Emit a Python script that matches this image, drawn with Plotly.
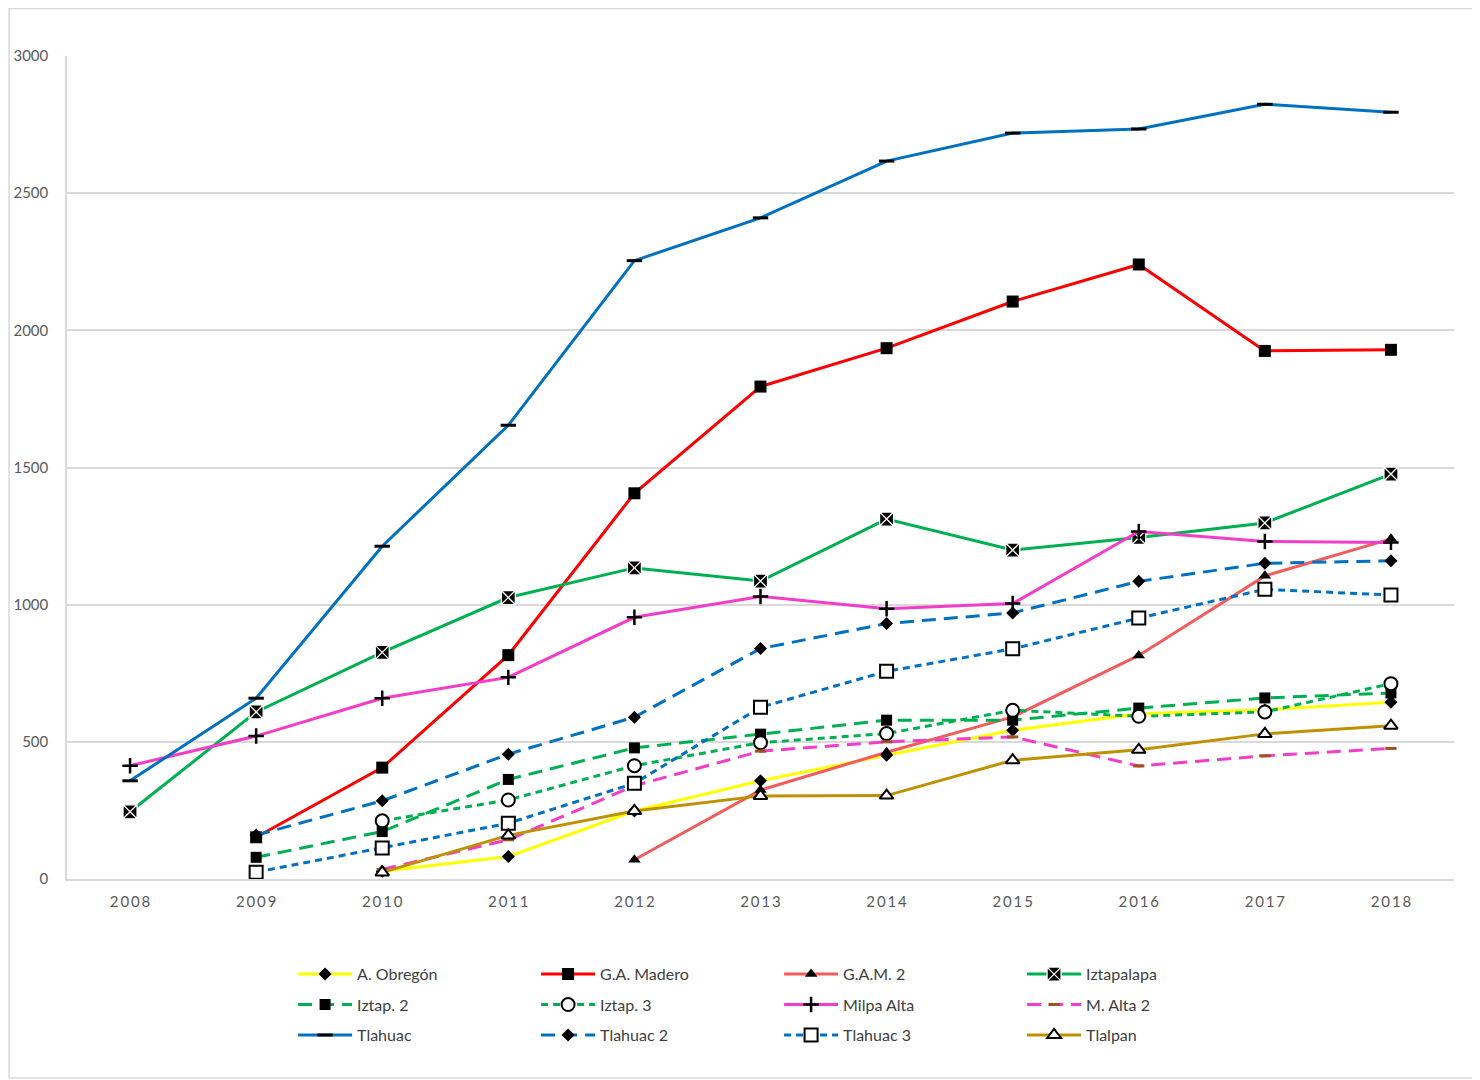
import plotly.graph_objects as go

years = [2008, 2009, 2010, 2011, 2012, 2013, 2014, 2015, 2016, 2017, 2018]
year_labels = ["\u2009".join(str(y)) for y in years]

a_obregon = [None, None, 28, 82, 248, 358, 451, 542, 602, 617, 644]
ga_madero = [None, 152, 406, 816, 1406, 1795, 1935, 2105, 2240, 1925, 1929]
gam_2 = [None, None, None, None, 70, 324, 462, 591, 815, 1105, 1240]
iztapalapa = [245, 609, 826, 1026, 1134, 1086, 1312, 1199, 1245, 1298, 1476]
iztap_2 = [None, 79, 173, 363, 478, 528, 579, 579, 623, 660, 678]
iztap_3 = [None, None, 212, 288, 413, 497, 530, 615, 593, 609, 712]
milpa_alta = [413, 521, 659, 735, 954, 1030, 985, 1004, 1267, 1230, 1227]
m_alta_2 = [None, None, 35, 143, 340, 466, 500, 518, 412, 449, 476]
tlahuac = [358, 659, 1213, 1654, 2254, 2410, 2617, 2719, 2734, 2824, 2795]
tlahuac_2 = [None, 160, 285, 455, 590, 840, 931, 970, 1085, 1151, 1160]
tlahuac_3 = [None, 25, 113, 203, 349, 626, 757, 839, 951, 1056, 1035]
tlalpan = [None, None, 24, 159, 248, 303, 304, 433, 471, 529, 559]

BLUE = "#0070C0"
GREEN = "#00B050"
PINK = "#F23DC9"

# name, values, line colour, dash, marker, legend row
series = [
    ("A. Obregón", a_obregon, "#FFFF00", "solid",
     dict(symbol="diamond", size=10, color="black"), "legend"),
    ("G.A. Madero", ga_madero, "#FF0000", "solid",
     dict(symbol="square", size=12, color="black"), "legend"),
    ("G.A.M. 2", gam_2, "#F25C5C", "solid",
     dict(symbol="triangle-up", size=11, color="black"), "legend"),
    ("Iztapalapa", iztapalapa, GREEN, "solid",
     dict(symbol="square-x", size=14, color="black",
          line=dict(color="white", width=1.3)), "legend"),
    ("Iztap. 2", iztap_2, GREEN, "14px,8px",
     dict(symbol="square", size=11, color="black"), "legend2"),
    ("Iztap. 3", iztap_3, GREEN, "7px,5px",
     dict(symbol="circle", size=13, color="white",
          line=dict(color="black", width=2)), "legend2"),
    ("Milpa Alta", milpa_alta, PINK, "solid",
     dict(symbol="cross-thin", size=11, line=dict(color="black", width=2.5)), "legend2"),
    ("M. Alta 2", m_alta_2, PINK, "14px,8px",
     dict(symbol="line-ew", size=8, line=dict(color="#A0521E", width=3)), "legend2"),
    ("Tlahuac", tlahuac, BLUE, "solid",
     dict(symbol="line-ew", size=11, line=dict(color="black", width=3)), "legend3"),
    ("Tlahuac 2", tlahuac_2, BLUE, "14px,8px",
     dict(symbol="diamond", size=10, color="black"), "legend3"),
    ("Tlahuac 3", tlahuac_3, BLUE, "7px,5px",
     dict(symbol="square", size=13, color="white",
          line=dict(color="black", width=2)), "legend3"),
    ("Tlalpan", tlalpan, "#BF9000", "solid",
     dict(symbol="triangle-up", size=12, color="white",
          line=dict(color="black", width=2)), "legend3"),
]

fig = go.Figure()
for name, values, color, dash, marker, legend in series:
    fig.add_trace(go.Scatter(
        x=years, y=values, name=name, mode="lines+markers",
        line=dict(color=color, width=3, dash=dash),
        marker=marker, legend=legend,
    ))

legend_style = dict(
    orientation="h", xanchor="left", x=0.163, yanchor="top",
    entrywidth=174, entrywidthmode="pixels", itemwidth=54,
    font=dict(family="Lato", size=16, color="#404040"),
    bgcolor="rgba(0,0,0,0)", tracegroupgap=0,
)

fig.update_layout(
    width=1472, height=1072,
    margin=dict(l=59, r=26, t=48, b=201),
    paper_bgcolor="white", plot_bgcolor="white",
    font=dict(family="Lato", color="#595959"),
    legend=dict(legend_style, y=-0.095),
    legend2=dict(legend_style, y=-0.132),
    legend3=dict(legend_style, y=-0.169),
    xaxis=dict(
        range=[2007.5, 2018.5], tickvals=years, ticktext=year_labels,
        showgrid=False, showline=True, linecolor="#D9D9D9", linewidth=1.5,
        tickfont=dict(size=15, color="#595959"), ticks="",
        ticklabelstandoff=8, automargin=False,
    ),
    yaxis=dict(
        range=[0, 3000], dtick=500, showgrid=True, gridcolor="#D9D9D9",
        gridwidth=1.5, showline=True, linecolor="#D9D9D9", linewidth=1.5,
        zeroline=False, tickfont=dict(size=15, color="#595959"),
        ticklabelstandoff=14, automargin=False,
    ),
    shapes=[dict(
        type="rect", xref="paper", yref="paper",
        x0=-0.0418, x1=1.0166, y0=-0.2418, y1=1.0577,
        line=dict(color="#D9D9D9", width=1.5),
    )],
)

fig.write_html("out.html")
